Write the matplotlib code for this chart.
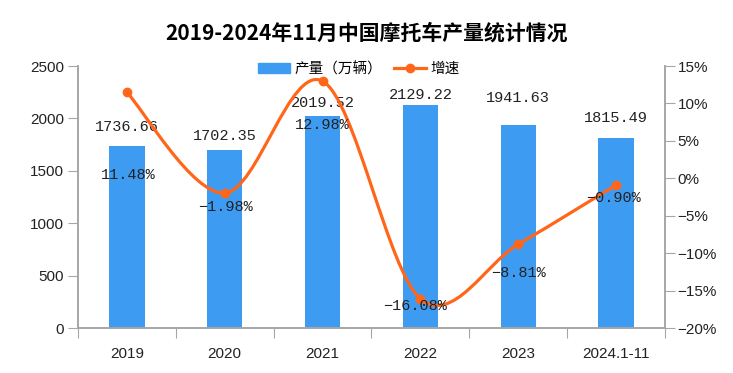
import matplotlib.pyplot as plt
from matplotlib.path import Path
from matplotlib.patches import PathPatch
from matplotlib.lines import Line2D
from matplotlib.patches import Patch

plt.rcParams['font.family'] = ['Noto Sans CJK SC', 'DejaVu Sans']

years = ["2019", "2020", "2021", "2022", "2023", "2024.1-11"]
output = [1736.66, 1702.35, 2019.52, 2129.22, 1941.63, 1815.49]
growth = [11.48, -1.98, 12.98, -16.08, -8.81, -0.90]

# label offsets in pixels
bar_lbl_dy = [19, 14, 13, 10, 27, 20]
pct_lbl_dx = [1, 1, 0, -5, 0, -3]
pct_lbl_dy = [-83, -14, -44, -7, -29, -13]

bar_color = "#3D9CF2"
line_color = "#FF6619"
grid_gray = "#A6A6A6"
num_font = ["Liberation Mono", "DejaVu Sans Mono"]
tick_font = ["Liberation Sans Narrow", "Liberation Sans", "DejaVu Sans"]

fig = plt.figure(figsize=(7.33, 3.73), dpi=100)
ax = fig.add_axes([0.1064, 0.1206, 0.8008, 0.7024])
ax2 = ax.twinx()

x = list(range(len(years)))
ax.bar(x, output, width=0.36, color=bar_color, zorder=2)
ax.set_xlim(-0.5, len(years) - 0.5)
ax.set_ylim(0, 2500)
ax.set_yticks(range(0, 2501, 500))
ax2.set_ylim(-20, 15)
ax2.set_yticks(range(-20, 16, 5))
ax2.set_yticklabels([f"{v}%".replace("-", "\u2212") for v in range(-20, 16, 5)])

# smooth line like the office "smoothed line" option
pts = list(zip(x, growth))
verts = [pts[0]]
codes = [Path.MOVETO]
for i in range(len(pts) - 1):
    p0 = pts[i - 1] if i > 0 else pts[i]
    p1 = pts[i]
    p2 = pts[i + 1]
    p3 = pts[i + 2] if i + 2 < len(pts) else pts[i + 1]
    c1 = (p1[0] + (p2[0] - p0[0]) / 6, p1[1] + (p2[1] - p0[1]) / 6)
    c2 = (p2[0] - (p3[0] - p1[0]) / 6, p2[1] - (p3[1] - p1[1]) / 6)
    verts += [c1, c2, p2]
    codes += [Path.CURVE4] * 3
ax2.add_patch(PathPatch(Path(verts, codes), fill=False, edgecolor=line_color, lw=2.3, zorder=3))
ax2.plot(x, growth, "o", color=line_color, ms=6, zorder=4)

for i, v in enumerate(output):
    ax.annotate(f"{v:.2f}", (x[i], v), xytext=(0, bar_lbl_dy[i]), textcoords="offset pixels",
                ha="center", va="center", fontsize=11, family=num_font, color="#222222")
for i, v in enumerate(growth):
    ax2.annotate(f"{v:.2f}%".replace("-", "\u2212"), (x[i], v), xytext=(pct_lbl_dx[i], pct_lbl_dy[i]),
                 textcoords="offset pixels", ha="center", va="center", fontsize=11,
                 family=num_font, color="#222222", zorder=5)

ax.set_xticks([i - 0.5 for i in range(len(years) + 1)], minor=False)
ax.set_xticklabels([])
ax.set_xticks(x, minor=True)
ax.set_xticklabels(years, minor=True)
ax.tick_params(axis="x", which="major", length=7, color=grid_gray, direction="out")
ax.tick_params(axis="x", which="minor", length=0, pad=14, labelsize=11)
ax.tick_params(axis="y", length=7, color=grid_gray, labelsize=11, pad=3)
ax2.tick_params(axis="y", length=7, color=grid_gray, labelsize=11, pad=2)
for lbl in ax.get_xticklabels(minor=True) + ax.get_yticklabels() + ax2.get_yticklabels():
    lbl.set_family(tick_font)
    lbl.set_color("#222222")

for a in (ax, ax2):
    a.spines["top"].set_visible(False)
    for s in ("left", "right", "bottom"):
        a.spines[s].set_color(grid_gray)
        a.spines[s].set_linewidth(1.2)

handles = [Patch(color=bar_color), Line2D([0], [0], color=line_color, lw=2.3, marker="o", ms=6)]
fig.legend(handles, ["产量（万辆）", "增速"], loc="center", bbox_to_anchor=(0.49, 0.815), ncol=2,
           frameon=False, fontsize=10.5, handlelength=2.2, columnspacing=0.8, handletextpad=0.3)

fig.suptitle("2019-2024年11月中国摩托车产量统计情况", y=0.94, fontsize=15, fontweight="bold")

fig.savefig("out.png", dpi=100)
